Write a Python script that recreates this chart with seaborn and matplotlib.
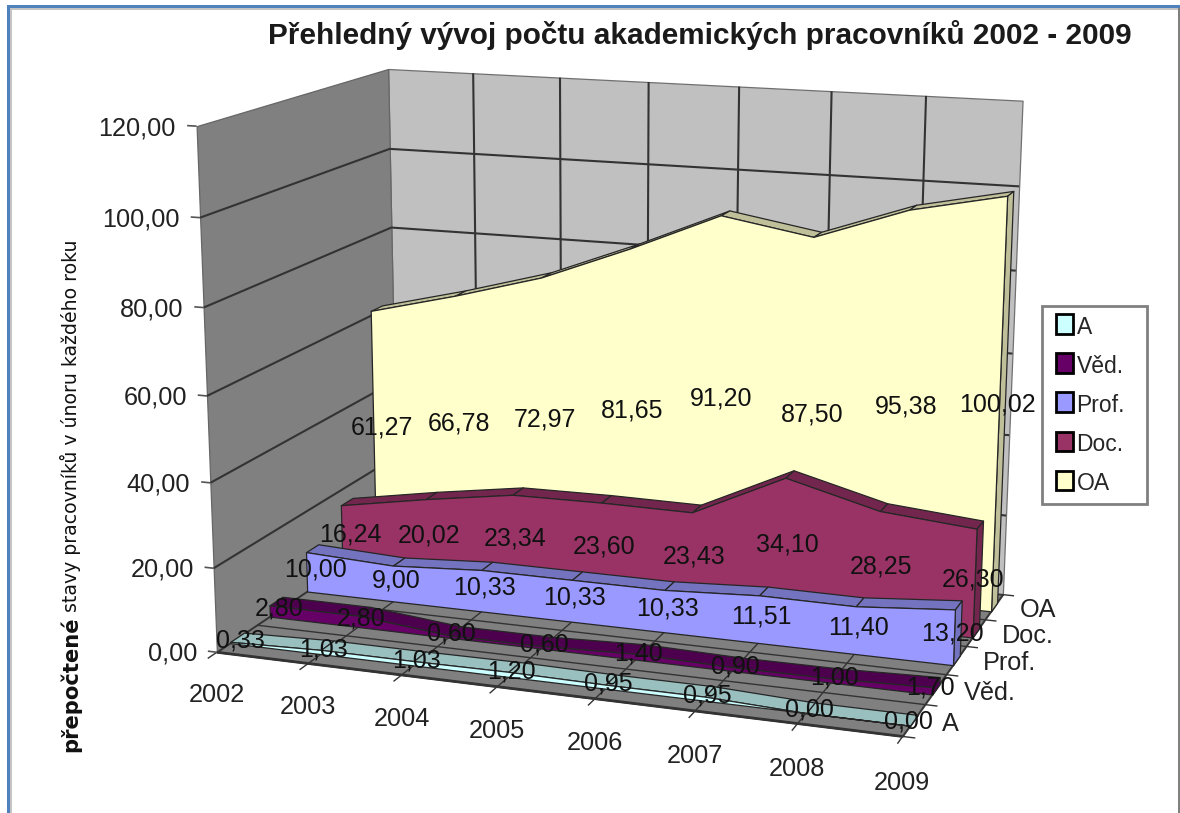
import numpy as np
import seaborn as sns
import matplotlib
matplotlib.use('Agg')
import matplotlib.pyplot as plt
from matplotlib.legend_handler import HandlerPatch
from matplotlib.patches import Patch, Rectangle
from mpl_toolkits.mplot3d.art3d import Poly3DCollection, Line3DCollection

# values
years = ['2002', '2003', '2004', '2005', '2006', '2007', '2008', '2009']
series = ['A', 'Věd.', 'Prof.', 'Doc.', 'OA']
a_vals = [0.33, 1.03, 1.03, 1.20, 0.95, 0.95, 0.00, 0.00]
ved_vals = [2.80, 2.80, 0.60, 0.60, 1.40, 0.90, 1.00, 1.70]
prof_vals = [10.00, 9.00, 10.33, 10.33, 10.33, 11.51, 11.40, 13.20]
doc_vals = [16.24, 20.02, 23.34, 23.60, 23.43, 34.10, 28.25, 26.30]
oa_vals = [61.27, 66.78, 72.97, 81.65, 91.20, 87.50, 95.38, 100.02]
z_ticks = [0, 20, 40, 60, 80, 100, 120]
colors = ['#CCFFFF', '#660066', '#9999FF', '#993366', '#FFFFCC']

title = 'Přehledný vývoj počtu akademických pracovníků 2002 - 2009'
ylab_big = 'přepočtené'
ylab_small = 'stavy pracovníků v únoru každého roku'

W, H = 1180, 813
sns.set_theme(style='white')
plt.rcParams['font.family'] = ['Liberation Sans', 'DejaVu Sans']
palette = sns.color_palette(colors)

fig = plt.figure(figsize=(W / 100, H / 100), dpi=100, facecolor='white')
# 3d axes are forced square, so make it big enough to cover the whole figure
ax = fig.add_axes([0, -(W - H) / 2 / H, 1, W / H], projection='3d', computed_zorder=False)
ax.set_axis_off()
ax.patch.set_visible(False)
nx, ny = len(years) - 1, len(series)
zmax = z_ticks[-1]
ax.set_xlim(0, nx)
ax.set_ylim(0, ny)
ax.set_zlim(0, zmax)

# excel camera: cube corners -> picture pixels, solved as a projective matrix
corners = [((0, 0, 0), (218, 650)), ((nx, 0, 0), (903, 738)), ((nx, ny, 0), (1003, 593)),
           ((0, ny, 0), (396, 533)), ((0, 0, zmax), (195, 127)), ((0, ny, zmax), (390, 68)),
           ((nx, ny, zmax), (1022, 101))]
S = np.diag([1 / nx, 1 / ny, 1 / zmax, 1])
rows = []
for p, (u, v) in corners:
    X = S @ np.array([*p, 1.0])
    rows.append(np.r_[X, 0, 0, 0, 0, -u / 1000 * X])
    rows.append(np.r_[0, 0, 0, 0, X, -v / 1000 * X])
P = np.linalg.svd(np.array(rows))[2][-1].reshape(3, 4) @ S
P = P * np.sign(P[2] @ np.array([nx / 2, ny / 2, zmax / 2, 1]))
P[:2] *= 1000


def excel_proj():
    # pixels -> the 2d coordinates the 3d axes draws in
    inv = np.linalg.inv(ax.transData.get_affine().get_matrix())
    to2d = np.array([[inv[0, 0], inv[0, 1], 0, inv[0, 2]],
                     [inv[1, 0], inv[1, 1], 0, inv[1, 2]],
                     [0, 0, 1, 0],
                     [0, 0, 0, 1]])
    pix = np.array([P[0], H * P[2] - P[1], np.array([-1 / nx, 1 / ny, -1 / zmax, 0]) * abs(P[2, 3]), P[2]])
    return to2d @ pix


ax.get_proj = excel_proj

order = [1]


def quad(verts, face, edge='#262626', lw=0.9):
    order[0] += 1
    ax.add_collection3d(Poly3DCollection([verts], facecolors=[face], edgecolors=[edge],
                                         linewidths=lw, zorder=order[0]))


def line(xs, ys, zs, lw=1.5, color='#333333'):
    order[0] += 1
    seg = [list(zip(xs, ys, zs))]
    ax.add_collection3d(Line3DCollection(seg, colors=color, linewidths=lw, zorder=order[0]))


def label(x, y, z, s, **kw):
    # text stays 2d so its box is where it shows
    u, v, w = P @ np.array([x, y, z, 1.0])
    fig.text(u / w / W, 1 - v / w / H, s, va='center', zorder=5, **kw)


# walls and floor
quad([(0, ny, 0), (nx, ny, 0), (nx, ny, zmax), (0, ny, zmax)], '#C0C0C0', '#707070')
quad([(0, 0, 0), (0, ny, 0), (0, ny, zmax), (0, 0, zmax)], '#808080', '#666666')
quad([(0, 0, 0), (nx, 0, 0), (nx, ny, 0), (0, ny, 0)], '#808080', '#404040')
for v in z_ticks[1:-1]:
    line([0, 0, nx], [0, ny, ny], [v, v, v])
for i in range(1, nx):
    line([i, i], [ny, ny], [0, zmax])
for i in range(nx + 1):
    line([i, i], [-0.22, ny], [0, 0], lw=1.0)
for j in range(ny + 1):
    line([0, nx + 0.12], [j, j], [0, 0], lw=1.0)
for v in z_ticks:
    line([-0.1, 0], [0, 0], [v, v], lw=1.2, color='#555555')
line([0, nx], [0, 0], [0, 0], lw=2.0, color='#333333')

# series back to front: top strips, right side, front face
all_vals = [a_vals, ved_vals, prof_vals, doc_vals, oa_vals]
front, back = 0.33, 0.67
for j in range(ny - 1, -1, -1):
    vals = all_vals[j]
    face = palette[j]
    dark = tuple(np.array(face) * 0.75)
    yf, yb = j + front, j + back
    for i in range(nx):
        quad([(i, yf, vals[i]), (i + 1, yf, vals[i + 1]), (i + 1, yb, vals[i + 1]), (i, yb, vals[i])], dark)
    quad([(nx, yf, 0), (nx, yb, 0), (nx, yb, vals[-1]), (nx, yf, vals[-1])], dark)
    quad([(i, yf, vals[i]) for i in range(nx + 1)] + [(nx, yf, 0), (0, yf, 0)], face)

# data labels, halfway up each area
for j, vals in enumerate(all_vals):
    for i, v in enumerate(vals):
        lx = min(max(i, 0.08), nx - 0.05) + 0.03
        label(lx, j + front, v / 2 + 0.8, f'{v:.2f}'.replace('.', ','), ha='center', fontsize=18, color='#111111')

# axis labels
for v in z_ticks:
    label(-0.22, 0, v - 0.8, f'{v:.2f}'.replace('.', ','), ha='right', fontsize=18.2, color='#222222')
for i, y in enumerate(years):
    label(i + 0.03, -0.1, -9.5, y, ha='center', fontsize=18.2, color='#222222')
for j, s in enumerate(series):
    label(nx + 0.27, j + 0.5, 0, s, ha='left', fontsize=18.2, color='#222222')

fig.text(700 / W, 1 - 35 / H, title, ha='center', va='center', fontsize=21.4, fontweight='bold', color='#1a1a1a')
fig.text(77 / W, 1 - 752 / H, ylab_big, rotation=90, rotation_mode='anchor', ha='left', va='baseline',
         fontsize=15.2, fontweight='bold', family='DejaVu Sans', color='#111111')
fig.text(77 / W, 1 - 612 / H, ylab_small, rotation=90, rotation_mode='anchor', ha='left', va='baseline',
         fontsize=13.6, family='DejaVu Sans', color='#111111')


def legend_box(legend, orig_handle, xdescent, ydescent, width, height, fontsize):
    return Rectangle((width - 12, height / 2 - 7), 12, 14)


handles = [Patch(facecolor=palette[j], edgecolor='black', lw=2, label=series[j]) for j in range(ny)]
leg = fig.legend(handles=handles, loc='upper left', bbox_to_anchor=(1042 / W, 1 - 501 / H, 105 / W, 195 / H),
                 bbox_transform=fig.transFigure, mode='expand', fancybox=False, framealpha=1, edgecolor='#808080',
                 fontsize=16.5, handlelength=0.92, handleheight=0.9, labelspacing=0.7, borderpad=0.42,
                 borderaxespad=0, handletextpad=0.17, handler_map={Patch: HandlerPatch(patch_func=legend_box)})
leg.get_frame().set_linewidth(2)


def frame(x, y, w, h, color):
    fig.add_artist(Rectangle((x / W, 1 - (y + h) / H), w / W, h / H, transform=fig.transFigure, color=color, lw=0))


frame(7, 5, 3, H - 5, '#4F81BD')
frame(10, 8, 2, H - 8, '#C4C4C4')
frame(7, 5, W - 7, 3, '#4F81BD')
frame(10, 8, W - 10, 2, '#C4C4C4')
frame(W - 2, 8, 2, H - 8, '#808080')

fig.savefig('out.png', dpi=100)
